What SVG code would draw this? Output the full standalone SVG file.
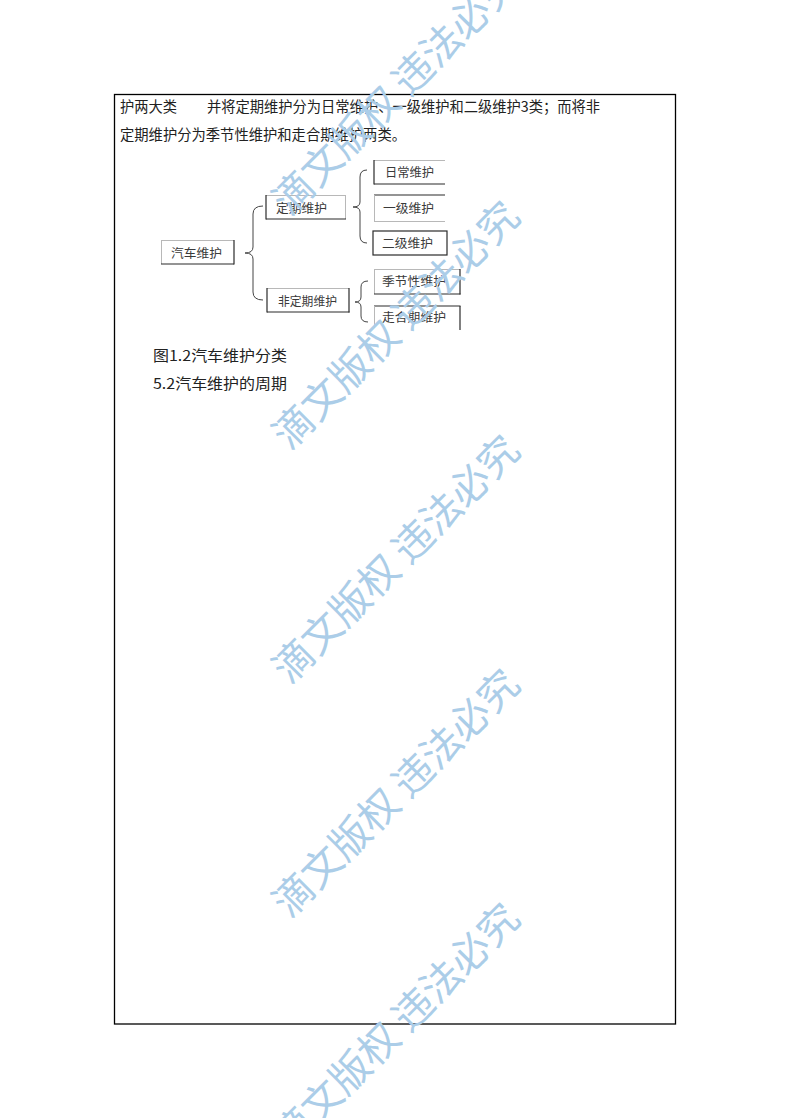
<svg xmlns="http://www.w3.org/2000/svg" width="789" height="1118" viewBox="0 0 789 1118">
<style>
.bg{fill:#ffffff}
.frame{fill:none;stroke:#000;stroke-width:1.3}
.body{font-family:"Noto Sans CJK SC","Liberation Serif",serif;font-size:14.3px;fill:#222}
.lbl{font-family:"Noto Sans CJK SC","Liberation Sans",sans-serif;font-size:12.3px;fill:#3a3a3a}
.dk{stroke:#2a2a2a;stroke-width:1.2;fill:none}
.lt{stroke:#b8b8b8;stroke-width:1;fill:none}
.brace{stroke:#444;stroke-width:1;fill:none}
.wm{font-family:"Noto Sans CJK SC",sans-serif;font-size:40px;fill:#abcde8;font-weight:400}
</style>
<rect class="bg" x="0" y="0" width="789" height="1118"/>
<rect class="frame" x="114.5" y="94.5" width="561" height="929.5"/>

<g id="body-text">
<text class="body" x="120" y="112" textLength="57" lengthAdjust="spacingAndGlyphs">护两大类</text>
<text class="body" x="207" y="112" textLength="393" lengthAdjust="spacingAndGlyphs">并将定期维护分为日常维护、一级维护和二级维护3类；而将非</text>
<text class="body" x="120" y="140" textLength="286" lengthAdjust="spacingAndGlyphs">定期维护分为季节性维护和走合期维护两类。</text>
<text class="body" x="153" y="361" textLength="134" lengthAdjust="spacingAndGlyphs">图1.2汽车维护分类</text>
<text class="body" x="153" y="389" textLength="134" lengthAdjust="spacingAndGlyphs">5.2汽车维护的周期</text>
</g>

<g id="connectors">
<path class="brace" d="M263 206 Q253 206 253 214 L253 247 Q253 253 245 253 Q253 253 253 259 L253 292 Q253 300 263 300"/>
<path class="brace" d="M367 170 Q360 170 360 177 L360 202 Q360 207 353 207 Q360 207 360 212 L360 236 Q360 243 367 243"/>
<path class="brace" d="M368 281 Q361 281 361 287 L361 297 Q361 302 355 302 Q361 302 361 307 L361 316 Q361 322 368 322"/>
</g>

<g id="node-qiche">
<line class="lt" x1="161" y1="240.5" x2="234" y2="240.5"/>
<line class="lt" x1="161.5" y1="240" x2="161.5" y2="264"/>
<line class="dk" x1="161" y1="264" x2="234" y2="264"/>
<line class="dk" x1="234" y1="240" x2="234" y2="264.5"/>
<text class="lbl" x="171" y="258" textLength="51" lengthAdjust="spacingAndGlyphs">汽车维护</text>
</g>

<g id="node-dingqi">
<line class="lt" x1="266" y1="195.5" x2="345.5" y2="195.5"/>
<line class="dk" x1="266" y1="195" x2="266" y2="219.5"/>
<line class="lt" x1="345.5" y1="195" x2="345.5" y2="219"/>
<line class="dk" x1="266" y1="219" x2="346" y2="219"/>
<text class="lbl" x="276" y="213" textLength="51" lengthAdjust="spacingAndGlyphs">定期维护</text>
</g>

<g id="node-feidingqi">
<line class="lt" x1="267" y1="288.5" x2="349" y2="288.5"/>
<line class="dk" x1="267" y1="288" x2="267" y2="312.5"/>
<line class="dk" x1="349" y1="288" x2="349" y2="312.5"/>
<line class="dk" x1="267" y1="312" x2="349.5" y2="312"/>
<text class="lbl" x="278" y="306" textLength="59" lengthAdjust="spacingAndGlyphs">非定期维护</text>
</g>

<g id="node-richang">
<line class="lt" x1="374" y1="160.5" x2="445" y2="160.5"/>
<line class="dk" x1="374" y1="160" x2="374" y2="184.5"/>
<line class="dk" x1="374" y1="184" x2="445" y2="184"/>
<text class="lbl" x="385" y="177" textLength="49" lengthAdjust="spacingAndGlyphs">日常维护</text>
</g>

<g id="node-yiji">
<line class="dk" x1="374" y1="195" x2="445" y2="195"/>
<line class="lt" x1="374.5" y1="195" x2="374.5" y2="221.5"/>
<line class="lt" x1="374" y1="221.5" x2="445" y2="221.5"/>
<text class="lbl" x="383" y="213" textLength="51" lengthAdjust="spacingAndGlyphs">一级维护</text>
</g>

<g id="node-erji">
<rect class="dk" x="373" y="231" width="74" height="24"/>
<text class="lbl" x="382" y="248" textLength="51" lengthAdjust="spacingAndGlyphs">二级维护</text>
</g>

<g id="node-jijie">
<line class="lt" x1="374" y1="269.5" x2="460" y2="269.5"/>
<line class="lt" x1="374.5" y1="269" x2="374.5" y2="294"/>
<line class="dk" x1="460" y1="269" x2="460" y2="294.5"/>
<line class="dk" x1="374" y1="294" x2="460.5" y2="294"/>
<text class="lbl" x="382" y="286" textLength="64" lengthAdjust="spacingAndGlyphs">季节性维护</text>
</g>

<g id="node-zouhe">
<line class="dk" x1="374" y1="306" x2="460.5" y2="306"/>
<line class="lt" x1="374.5" y1="306" x2="374.5" y2="328"/>
<line class="dk" x1="460" y1="306" x2="460" y2="330"/>
<text class="lbl" x="382" y="322" textLength="64" lengthAdjust="spacingAndGlyphs">走合期维护</text>
</g>

<g id="watermark">
<text class="wm" x="394" y="89" text-anchor="middle" dominant-baseline="central" transform="rotate(-45 394 89)">滴文版权 违法必究</text>
<text class="wm" x="394" y="323" text-anchor="middle" dominant-baseline="central" transform="rotate(-45 394 323)">滴文版权 违法必究</text>
<text class="wm" x="394" y="557" text-anchor="middle" dominant-baseline="central" transform="rotate(-45 394 557)">滴文版权 违法必究</text>
<text class="wm" x="394" y="791" text-anchor="middle" dominant-baseline="central" transform="rotate(-45 394 791)">滴文版权 违法必究</text>
<text class="wm" x="394" y="1025" text-anchor="middle" dominant-baseline="central" transform="rotate(-45 394 1025)">滴文版权 违法必究</text>
</g>
</svg>
